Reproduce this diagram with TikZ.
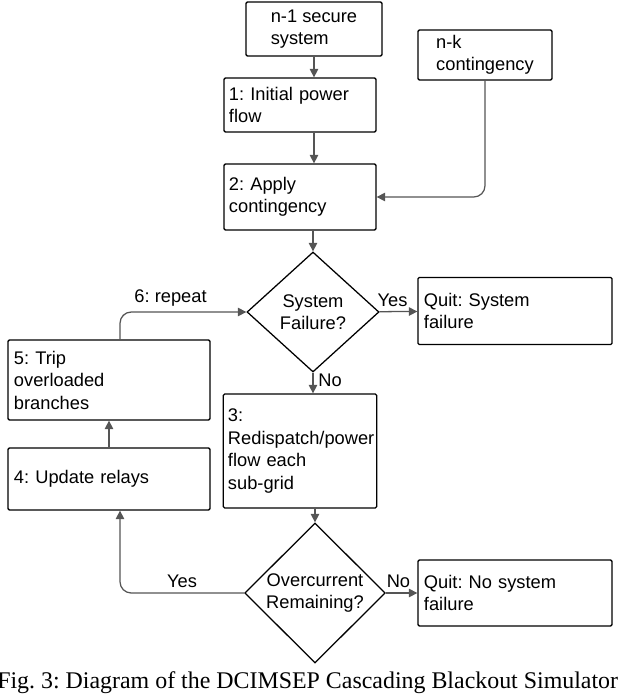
\documentclass[tikz,border=0pt]{standalone}
\usepackage{fontspec}
\setmainfont{Liberation Sans}
\newfontfamily\capfont{Liberation Serif}
\usetikzlibrary{arrows.meta,shapes.geometric,positioning}
\definecolor{linegray}{HTML}{555555}
\frenchspacing
\tikzset{
  box/.style={draw=black, line width=0.9pt, rounded corners=1pt, align=left, font=\fontsize{13}{16}\selectfont, anchor=center},
  decision/.style={draw=black, line width=0.9pt, diamond, aspect=1.1, align=center, font=\fontsize{13}{16}\selectfont, inner sep=0pt},
  flow/.style={draw=linegray, line width=0.9pt, rounded corners=8pt, -{Triangle[length=6pt,width=6pt]}},
  lbl/.style={font=\fontsize{13}{16}\selectfont}
}
\begin{document}
\begin{tikzpicture}[x=0.025cm, y=-0.025cm]
    \useasboundingbox (0,0) rectangle (640,698);
    % Draw boxes
    \node[box, minimum width=3.4cm, minimum height=1.35cm] (secure) at (314,29) {n-1 secure\\system};
    \node[box, minimum width=3.35cm, minimum height=1.25cm] (nk) at (485,55) {n-k\\contingency};
    \node[box, minimum width=3.8cm, minimum height=1.35cm, text width=3.55cm] (init) at (300,105) {1: Initial power\\flow};
    \node[box, minimum width=3.8cm, minimum height=1.65cm, text width=3.55cm] (apply) at (300,197) {2: Apply\\contingency};
    \node[decision, minimum width=3.3cm, minimum height=3cm] (fail) at (313,312) {System\\Failure?};
    \node[box, minimum width=4.85cm, minimum height=1.68cm, text width=4.55cm] (quit1) at (515,311) {Quit: System\\failure};
    \node[box, minimum width=5.05cm, minimum height=2cm, text width=4.75cm] (trip) at (109,380) {5: Trip\\overloaded\\branches};
    \node[box, minimum width=5.05cm, minimum height=1.55cm, text width=4.75cm] (relay) at (109,479) {4: Update relays};
    \node[box, minimum width=3.8cm, minimum height=2.85cm, text width=3.6cm] (redis) at (300,451) {3:\\Redispatch/power\\flow each\\sub-grid};
    \node[decision, minimum width=3.25cm, minimum height=3.5cm] (over) at (315,593) {Overcurrent\\Remaining?};
    \node[box, minimum width=4.85cm, minimum height=1.65cm, text width=4.55cm] (quit2) at (515,593) {Quit: No system\\failure};
    \coordinate (bend1) at (485,197);

    % Draw connectors
    \draw[flow] (secure) -- (init.north -| secure);
    \draw[flow] (init.south -| secure) -- (apply.north -| secure);
    \draw[flow] (nk) -- (bend1) -- (apply.east |- bend1);
    \draw[flow] (apply.south -| fail) -- (fail);
    \draw[flow] (fail) -- node[lbl, above, pos=0.35] {Yes} (quit1);
    \draw[flow] (fail.south) -- node[lbl, right, pos=0.35] {No} (redis.north -| fail.south);
    \draw[flow] (redis.south -| over.north) -- (over.north);
    \draw[flow] (over) -- node[lbl, above, pos=0.4] {No} (quit2);
    \draw[flow] (over.west) -| node[lbl, above, pos=0.25] {Yes} (relay.south -| 120,0);
    \draw[flow] (relay) -- (trip);
    \draw[flow] (trip.north -| 120,0) |- node[lbl, above, pos=0.7] {6: repeat} (fail.west);

    % Caption
    \node[anchor=west, inner sep=0pt, font=\capfont\fontsize{17}{18}\selectfont] (cap) at (-3,683) {Fig. 3: Diagram of the DCIMSEP Cascading Blackout Simulator};
\end{tikzpicture}
\end{document}
